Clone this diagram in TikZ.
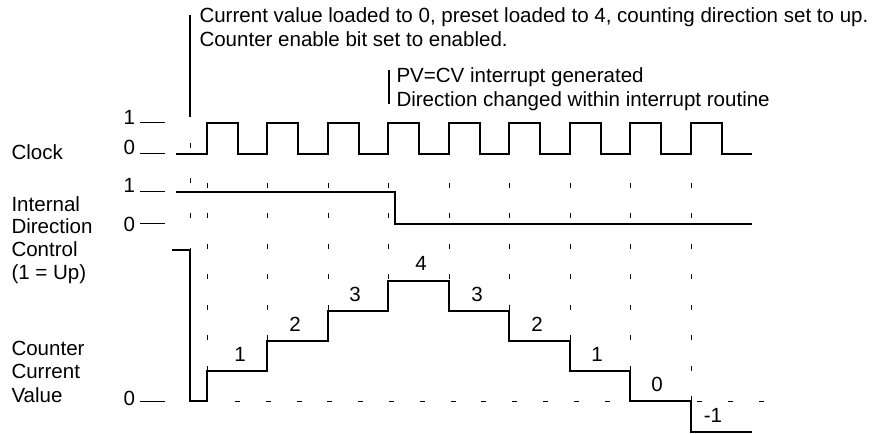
\documentclass[tikz,border=0pt]{standalone}
\usepackage{fontspec}
\setmainfont{Liberation Sans}

\tikzset{every picture/.style={line width=0.75pt}}
\tikzset{
  txt/.style={inner sep=0pt, font=\fontsize{15.4}{18}\selectfont},
  lbl/.style={txt, anchor=base west},
  val/.style={txt, anchor=base},
  wave/.style={line width=0.9pt},
  note/.style={line width=1.2pt},
  edgetick/.style={dash pattern=on 3.75pt off 19.1pt},
  zerotick/.style={dash pattern=on 3.75pt off 19.35pt},
  starttick/.style={dash pattern=on 3.75pt off 22.5pt}
}

\begin{document}
\begin{tikzpicture}[x=0.75pt,y=0.75pt,yscale=-1,xscale=1]
\path[use as bounding box] (0,0) rectangle (880,434);

%Straight Lines: start marker
\draw [note]    (190,15) -- (190,117) ;
%Straight Lines: interrupt marker
\draw [note]    (389,70) -- (389,104) ;

% Text Node
\draw (199,23) node (note1a) [lbl] {Current value loaded to 0, preset loaded to 4, counting direction set to up.};
% Text Node
\draw (199,47) node (note1b) [lbl] {Counter enable bit set to enabled.};
% Text Node
\draw (396,83) node (note2a) [lbl] {PV=CV interrupt generated};
% Text Node
\draw (396,107) node (note2b) [lbl] {Direction changed within interrupt routine};

% Text Node
\draw (11,160) node (clk) [lbl] {Clock};
% Text Node
\draw (11,212) node (int) [lbl] {Internal};
% Text Node
\draw (11,234) node (dirc) [lbl] {Direction};
% Text Node
\draw (11,257) node (ctrl) [lbl] {Control};
% Text Node
\draw (11,280) node (up) [lbl] {(1 = Up)};
% Text Node
\draw (11,355) node (cntr) [lbl] {Counter};
% Text Node
\draw (11,378) node (curr) [lbl] {Current};
% Text Node
\draw (11,402) node (valu) [lbl] {Value};

% Text Node
\draw (123,125) node (clk1) [lbl] {1};
% Text Node
\draw (123,155) node (clk0) [lbl] {0};
% Text Node
\draw (123,193) node (dir1) [lbl] {1};
% Text Node
\draw (123,232) node (dir0) [lbl] {0};
% Text Node
\draw (123,405) node (cnt0) [lbl] {0};

%Straight Lines: level marks
\draw    (140,123) -- (165,123) ;
\draw    (140,154) -- (165,154) ;
\draw    (140,192) -- (165,192) ;
\draw    (140,224) -- (165,224) ;
\draw    (140,401) -- (165,401) ;

%Straight Lines: dashed guides
\draw [starttick]    (190,143) -- (190,250) ;
\draw [edgetick]    (207,183) -- (207,371) ;
\draw [edgetick]    (267,183) -- (267,341) ;
\draw [edgetick]    (328,183) -- (328,311) ;
\draw [edgetick]    (388,183) -- (388,281) ;
\draw [edgetick]    (449,183) -- (449,281) ;
\draw [edgetick]    (509,183) -- (509,311) ;
\draw [edgetick]    (570,183) -- (570,341) ;
\draw [edgetick]    (630,183) -- (630,371) ;
\draw [edgetick]    (691,183) -- (691,401) ;
\draw [zerotick]    (235,401) -- (765,401) ;

%Shape: Clock waveform
\draw [wave]    (176,154) -- (207,154) -- (207,123) -- (238,123) -- (238,154) -- (267,154) -- (267,123) -- (298,123) -- (298,154) -- (328,154) -- (328,123) -- (359,123) -- (359,154) -- (388,154) -- (388,123) -- (419,123) -- (419,154) -- (449,154) -- (449,123) -- (480,123) -- (480,154) -- (509,154) -- (509,123) -- (540,123) -- (540,154) -- (570,154) -- (570,123) -- (601,123) -- (601,154) -- (630,154) -- (630,123) -- (661,123) -- (661,154) -- (691,154) -- (691,123) -- (722,123) -- (722,154) -- (752,154) ;

%Shape: Direction waveform
\draw [wave]    (176,192) -- (395,192) -- (395,224) -- (752,224) ;

%Shape: Counter waveform
\draw [wave]    (172,250) -- (190,250) -- (190,401) -- (207,401) -- (207,371) -- (267,371) -- (267,341) -- (328,341) -- (328,311) -- (388,311) -- (388,281) -- (449,281) -- (449,311) -- (509,311) -- (509,341) -- (570,341) -- (570,371) -- (630,371) -- (630,401) -- (691,401) -- (691,432) -- (752,432) ;

% Text Node
\draw (240,361) node (v1) [val] {1};
% Text Node
\draw (295,331) node (v2) [val] {2};
% Text Node
\draw (355,301) node (v3) [val] {3};
% Text Node
\draw (421,271) node (v4) [val] {4};
% Text Node
\draw (477,301) node (v3b) [val] {3};
% Text Node
\draw (537,331) node (v2b) [val] {2};
% Text Node
\draw (597,361) node (v1b) [val] {1};
% Text Node
\draw (657,391) node (v0) [val] {0};
% Text Node
\draw (713,422) node (vm1) [val] {-1};

\end{tikzpicture}
\end{document}
